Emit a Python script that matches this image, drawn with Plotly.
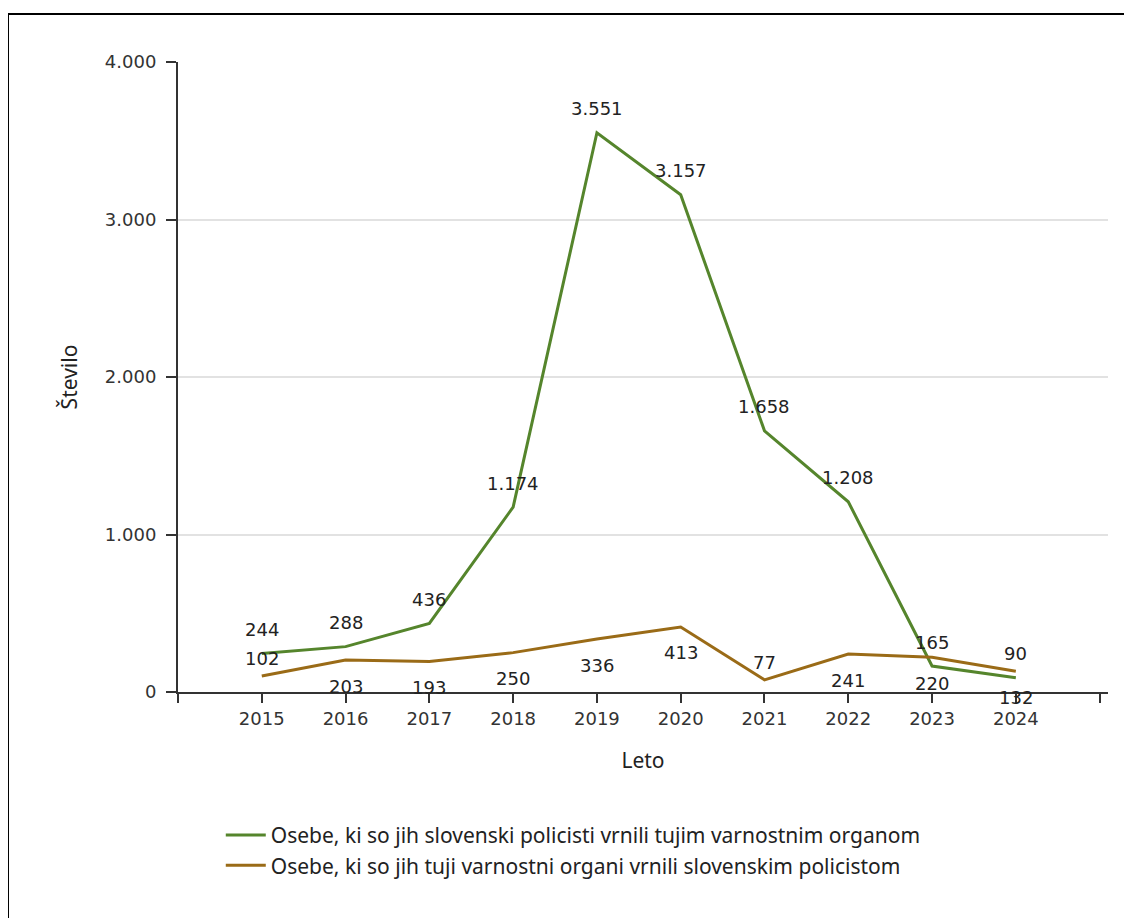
import plotly.graph_objects as go

years = [2015, 2016, 2017, 2018, 2019, 2020, 2021, 2022, 2023, 2024]
returned_by_slo = [244, 288, 436, 1174, 3551, 3157, 1658, 1208, 165, 90]
returned_to_slo = [102, 203, 193, 250, 336, 413, 77, 241, 220, 132]
name_green = "Osebe, ki so jih slovenski policisti vrnili tujim varnostnim organom"
name_brown = "Osebe, ki so jih tuji varnostni organi vrnili slovenskim policistom"
y_ticks = [0, 1000, 2000, 3000, 4000]
brown_label_above = [True, False, False, False, False, False, True, False, False, False]

GREEN = "#55852c"
BROWN = "#9a6b17"
NUM_FONT = "DejaVu Sans"
TXT_FONT = "Noto Sans"


def fmt(v):
    return f"{v:,}".replace(",", ".")


fig = go.Figure()
fig.add_trace(go.Scatter(x=years, y=returned_by_slo, mode="lines", name=name_green,
                         line=dict(color=GREEN, width=3), hoverinfo="x+y"))
fig.add_trace(go.Scatter(x=years, y=returned_to_slo, mode="lines", name=name_brown,
                         line=dict(color=BROWN, width=3), hoverinfo="x+y"))

for x, v in zip(years, returned_by_slo):
    fig.add_annotation(x=x, y=v, text=fmt(v), showarrow=False, yshift=24,
                       font=dict(family=NUM_FONT, size=18, color="#222"))
for x, v, up in zip(years, returned_to_slo, brown_label_above):
    fig.add_annotation(x=x, y=v, text=fmt(v), showarrow=False, yshift=17 if up else -26,
                       font=dict(family=NUM_FONT, size=18, color="#222"))

# outer frame
fig.add_shape(type="rect", xref="paper", yref="paper", x0=-0.1828, x1=1.05, y0=-0.45, y1=1.0762,
              line=dict(color="black", width=2), layer="above")

fig.update_layout(
    width=1124, height=910,
    margin=dict(l=170, r=24, t=54, b=226),
    paper_bgcolor="white", plot_bgcolor="white",
    separators=",.",
    showlegend=True,
    legend=dict(x=0.046, y=-0.195, xanchor="left", yanchor="top",
                font=dict(family=TXT_FONT, size=21, color="#222"),
                tracegroupgap=0, itemwidth=40, bgcolor="rgba(0,0,0,0)"),
    xaxis=dict(range=[2014, 2025.1], tickmode="array",
               tickvals=[2014] + years + [2025],
               ticktext=[""] + [str(y) for y in years] + [""],
               showgrid=False, zeroline=False,
               showline=True, linecolor="#333", linewidth=2,
               ticks="outside", ticklen=9, tickwidth=2, tickcolor="#333",
               tickfont=dict(family=NUM_FONT, size=18, color="#333"),
               title=dict(text="Leto", font=dict(family=TXT_FONT, size=21, color="#222"), standoff=26)),
    yaxis=dict(range=[0, 4000], tickmode="array", tickvals=y_ticks,
               ticktext=[fmt(v) for v in y_ticks],
               showgrid=True, gridcolor="#e2e2e2", gridwidth=2,
               zeroline=False, showline=True, linecolor="#333", linewidth=2,
               ticks="outside", ticklen=10, tickwidth=2, tickcolor="#333",
               ticklabelstandoff=6,
               tickfont=dict(family=NUM_FONT, size=18, color="#333"),
               title=dict(text="Število", font=dict(family=TXT_FONT, size=21, color="#222"), standoff=22)),
)

fig.write_html("out.html")
